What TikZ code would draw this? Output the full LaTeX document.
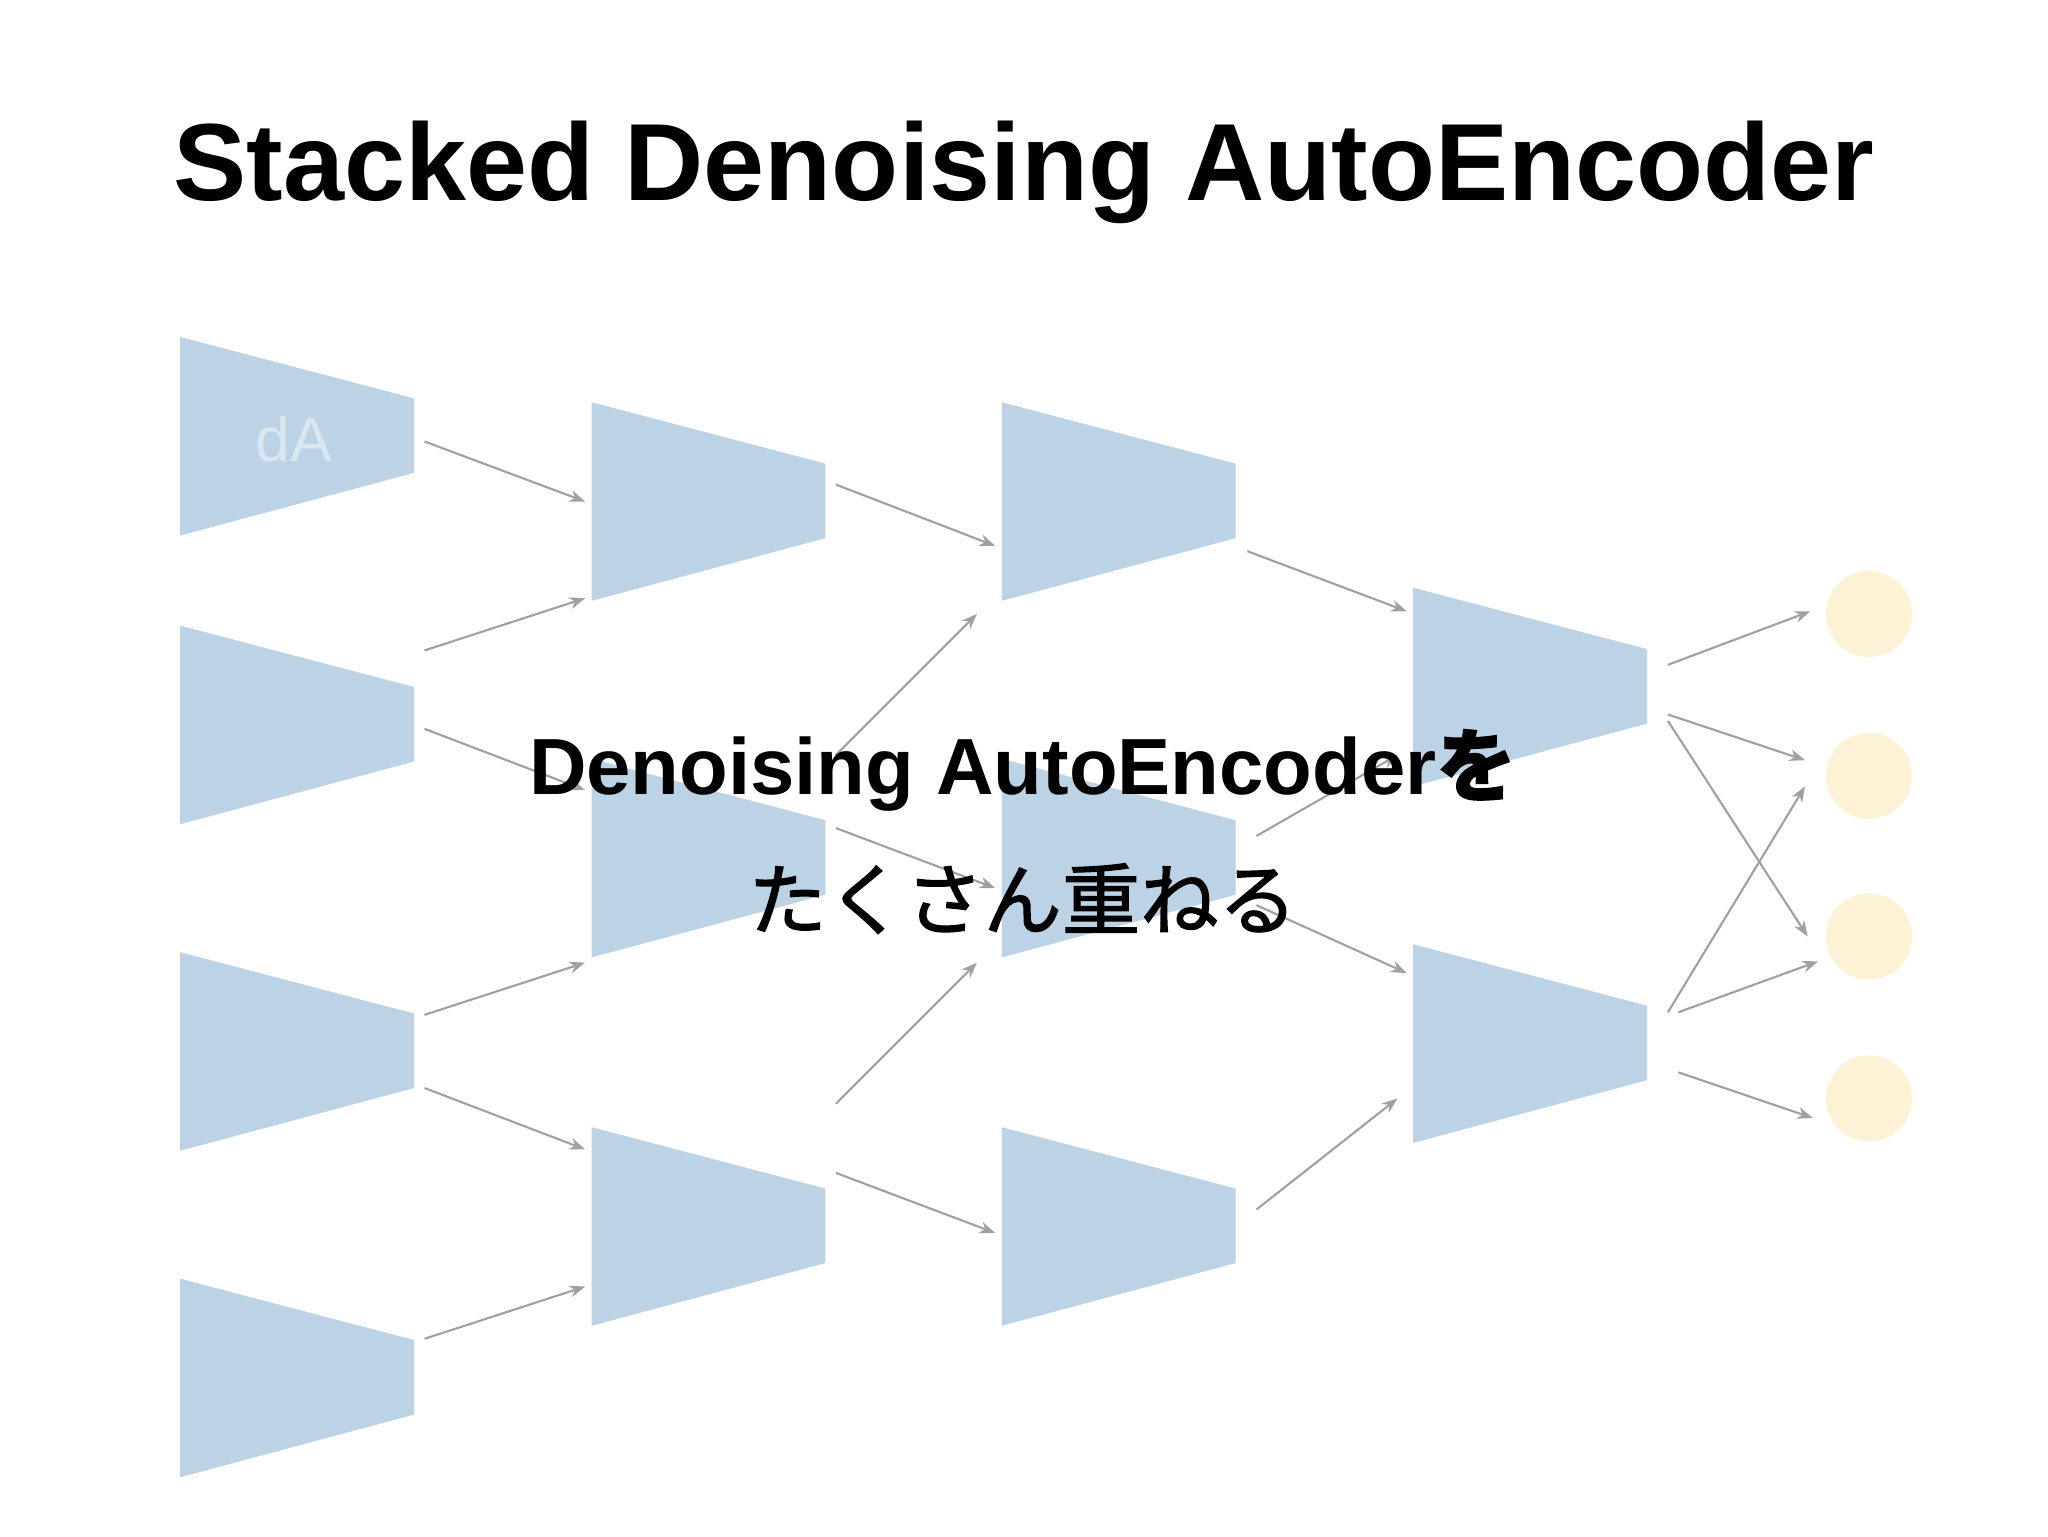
\documentclass[tikz,border=0pt]{standalone}
\usepackage{fontspec}
\setmainfont{Liberation Sans}
\newfontfamily\cjk{Noto Sans CJK JP}
\newfontfamily\cjkm[FakeBold=1.6]{Noto Sans CJK JP}
\usetikzlibrary{arrows.meta}
\definecolor{trapc}{HTML}{BCD3E5}
\definecolor{circc}{HTML}{FDF2D5}
\definecolor{arrc}{HTML}{A0A0A0}
\tikzset{conn/.style={draw=arrc,line width=1.6pt,-{Stealth[length=12pt,width=9pt]}},
trapst/.style={fill=trapc},
circst/.style={circle,fill=circc,minimum size=66pt,inner sep=0pt}}
\newcommand{\trapz}[3]{\fill[trapst] (#1pt,-#2pt) -- (#1pt+179pt,-#2pt-47pt) -- (#1pt+179pt,-#2pt-104pt) -- (#1pt,-#2pt-152pt) -- cycle;}
\begin{document}
\begin{tikzpicture}[x=1pt,y=-1pt]
\fill[white] (0,0) rectangle (1568,1176);
\useasboundingbox (0,0) rectangle (1568,1176);
\node[font=\fontsize{84}{90}\selectfont\bfseries] (title) at (784,132) {Stacked Denoising AutoEncoder};
\trapz{138}{258}{} \trapz{138}{479}{} \trapz{138}{729}{} \trapz{138}{979}{}
\trapz{453}{308}{} \trapz{453}{581}{} \trapz{453}{863}{}
\trapz{767}{308}{} \trapz{767}{581}{} \trapz{767}{863}{}
\trapz{1082}{450}{} \trapz{1082}{723}{}
\node[text=white!45!trapc,font=\fontsize{48}{50}\selectfont] (da) at (225,336) {dA};
\foreach \y/\n in {470/o1,594/o2,717/o3,841/o4} \node[circst] (\n) at (1431,\y) {};
\foreach \a/\b/\c/\d in {325/338/448/384, 325/498/448/458, 325/558/448/605, 325/777/448/737, 325/833/448/880, 325/1025/448/985,
640/371/762/418, 640/578/748/470, 640/634/762/680, 640/845/748/737, 640/898/762/944,
955/422/1077/468, 962/640/1070/578, 962/693/1077/745, 962/926/1070/841,
1277/509/1386/468, 1277/547/1382/582, 1277/552/1384/717, 1277/775/1382/602, 1285/775/1392/736, 1285/821/1388/856}
{\coordinate (s) at (\a,\b); \coordinate (t) at (\c,\d); \draw[conn] (s) -- (t);}
\node[font=\fontsize{61}{64}\selectfont\bfseries] (l1) at (783,590) {Denoising AutoEncoder{\cjkm を}};
\node[font=\fontsize{60}{64}\selectfont\cjkm] (l2) at (783,688) {たくさん重ねる};
\end{tikzpicture}
\end{document}
